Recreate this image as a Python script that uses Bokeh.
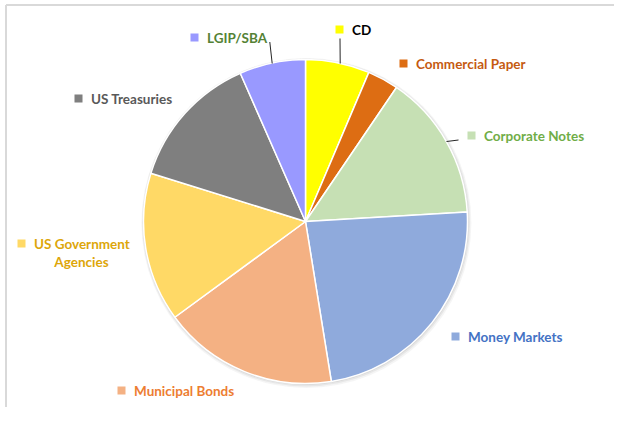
import math
from bokeh.plotting import figure
from bokeh.models import Range1d, ColumnDataSource
from bokeh.core.properties import value
from bokeh.embed import file_html
from bokeh.resources import INLINE

# ---- data (percent of portfolio, clockwise from 12 o'clock) ----
categories = ["CD", "Commercial Paper", "Corporate Notes", "Money Markets",
              "Municipal Bonds", "US Government Agencies", "US Treasuries", "LGIP/SBA"]
shares = [6.4, 3.1, 14.6, 23.4, 17.5, 14.9, 13.6, 6.6]
slice_colors = ["#FFFF00", "#DD6D13", "#C6E0B4", "#8FAADC",
                "#F4B183", "#FFD966", "#7F7F7F", "#9999FF"]
label_colors = ["#000000", "#C55A11", "#70AD47", "#4472C4",
                "#ED7D31", "#DDA60A", "#595959", "#548235"]

# ---- layout (pixel coordinates from top-left; y is converted below) ----
W, H = 614, 407
cx, cy_page, R = 305, 221, 162
label_pos = [(339, 29), (403, 63), (471, 135), (455, 336),
             (121, 390), (21, 243), (78, 98), (194, 37)]

def Y(py):
    return H - py

p = figure(width=W, height=H, output_backend="svg", toolbar_location=None,
           x_range=Range1d(0, W), y_range=Range1d(0, H),
           min_border=0, min_border_left=0, min_border_right=0,
           min_border_top=0, min_border_bottom=0)
p.axis.visible = False
p.grid.visible = False
p.outline_line_color = None
p.background_fill_color = "white"
p.border_fill_color = "white"

# chart border (top and left)
p.segment(x0=[5.5, 5.5], y0=[Y(4.5), Y(4.5)], x1=[W, 5.5], y1=[Y(4.5), Y(H)],
          line_color="#D9D9D9", line_width=2)

# soft shadow behind pie
for off, a in [(3.0, 0.10), (2.0, 0.15), (1.0, 0.2)]:
    p.circle(x=[cx + off * 0.3], y=[Y(cy_page) - off * 0.5], radius=R + off,
             fill_color="#9a9a9a", fill_alpha=a, line_color=None)

# wedges
total = sum(shares)
starts, ends = [], []
acc = 0.0
for s in shares:
    a0 = math.pi / 2 - 2 * math.pi * acc / total
    acc += s
    a1 = math.pi / 2 - 2 * math.pi * acc / total
    starts.append(a0)
    ends.append(a1)

src = ColumnDataSource(dict(start=starts, end=ends, color=slice_colors, name=categories))
p.wedge(x=cx, y=Y(cy_page), radius=R, start_angle="start", end_angle="end",
        direction="clock", fill_color="color", line_color="white", line_width=1.5,
        source=src)

# leader lines
p.segment(x0=[339.5, 269.3, 446], y0=[Y(38), Y(41.5), Y(141)],
          x1=[339.7, 271.7, 458], y1=[Y(63), Y(63), Y(139.5)],
          line_color="#262626", line_width=1)

# legend-like labels
mx = [x for x, _ in label_pos]
my = [Y(y) for _, y in label_pos]
p.rect(x=mx, y=my, width=8, height=8, fill_color=slice_colors, line_color=None)

single = [i for i, c in enumerate(categories) if c != "US Government Agencies"]
p.text(x=[label_pos[i][0] + 12.5 for i in single], y=[Y(label_pos[i][1]) for i in single],
       text=[categories[i] for i in single], text_color=[label_colors[i] for i in single],
       text_font=value("Lato"), text_font_style="bold", text_font_size="13.5px",
       text_align="left", text_baseline="middle")

g = categories.index("US Government Agencies")
gx, gy = label_pos[g]
p.text(x=[gx + 12.5], y=[Y(gy)], text=["US Government"], text_color=label_colors[g],
       text_font=value("Lato"), text_font_style="bold", text_font_size="13.5px",
       text_align="left", text_baseline="middle")
p.text(x=[81], y=[Y(gy + 18.5)], text=["Agencies"], text_color=label_colors[g],
       text_font=value("Lato"), text_font_style="bold", text_font_size="13.5px",
       text_align="center", text_baseline="middle")

open("out.html", "w").write(file_html(p, INLINE))
